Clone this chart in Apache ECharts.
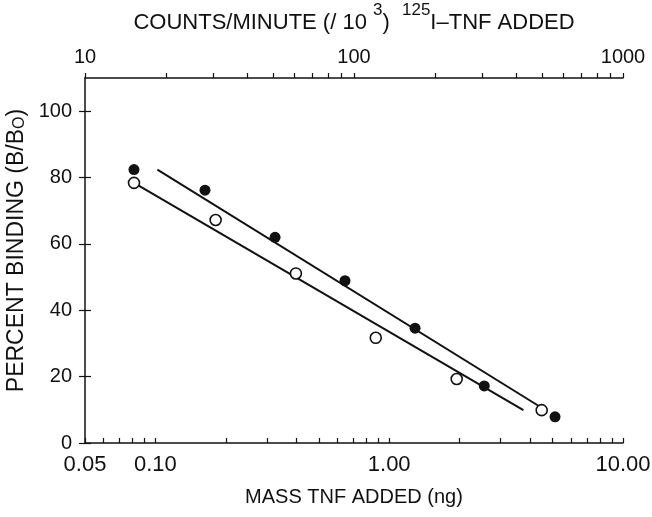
<!DOCTYPE html>
<html>
<head>
<meta charset="utf-8">
<script src="https://cdn.jsdelivr.net/npm/echarts@6/dist/echarts.min.js"></script>
<style>
html,body{margin:0;padding:0;background:#fff;}
#c{width:652px;height:517px;}
</style>
</head>
<body>
<div id="c"></div>
<script>
// ---- data ----
const filledX = [0.081, 0.163, 0.325, 0.647, 1.29, 2.55, 5.12];
const filledY = [82.4, 76.2, 62.0, 48.9, 34.6, 17.2, 7.9];
const openX = [0.081, 0.181, 0.399, 0.876, 1.944, 4.49];
const openY = [78.4, 67.2, 51.1, 31.7, 19.3, 9.9];
const upperLineX = [0.102, 4.4];
const upperLineY = [82.4, 11.0];
const lowerLineX = [0.081, 3.75];
const lowerLineY = [78.4, 9.9];
const bottomLabels = [0.05, 0.1, 1, 10];
const bottomTicks = [0.05, 0.06, 0.07, 0.08, 0.09, 0.1, 0.2, 0.3, 0.4, 0.5, 0.6, 0.7, 0.8, 0.9, 1, 2, 3, 4, 5, 6, 7, 8, 9, 10];
const topLabels = [10, 100, 1000];
const topTicks = [10, 20, 30, 40, 50, 60, 70, 80, 90, 100, 200, 300, 400, 500, 600, 700, 800, 900, 1000];
const yLabels = [0, 20, 40, 60, 80, 100];

const zip = (xs, ys) => xs.map((x, i) => [x, ys[i]]);
const FONT = 'Liberation Sans, Arial, Helvetica, sans-serif';
const black = '#111';

const chart = echarts.init(document.getElementById('c'), null, {renderer: 'canvas'});
chart.setOption({
  animation: false,
  backgroundColor: '#fff',
  grid: {left: 85, right: 29, top: 78, bottom: 74, containLabel: false, outerBoundsMode: 'none'},
  xAxis: [
    {
      type: 'log', logBase: 10, min: 0.05, max: 10, position: 'bottom',
      name: 'MASS TNF ADDED (ng)', nameLocation: 'middle', nameGap: 44,
      nameTextStyle: {fontFamily: FONT, fontSize: 20, color: black},
      axisLine: {show: true, onZero: false, lineStyle: {color: black, width: 1.5}},
      axisTick: {show: true, inside: true, length: 5, customValues: bottomTicks, lineStyle: {color: black, width: 1.2}},
      minorTick: {show: false},
      splitLine: {show: false},
      axisLabel: {show: true, customValues: bottomLabels, margin: 11, fontFamily: FONT, fontSize: 22, color: black,
        formatter: v => Number(v).toFixed(2)}
    },
    {
      type: 'log', logBase: 10, min: 10, max: 1000, position: 'top',
      name: '{a|COUNTS/MINUTE (/ 10 }{s|3}{a|)  }{s|125}{a|I\u2013TNF ADDED}',
      nameLocation: 'middle', nameGap: 44,
      nameTextStyle: {fontFamily: FONT, fontSize: 22, color: black,
        rich: {
          a: {fontFamily: FONT, fontSize: 22, color: black, lineHeight: 32, verticalAlign: 'bottom'},
          s: {fontFamily: FONT, fontSize: 17, color: black, lineHeight: 14, verticalAlign: 'top'}
        }},
      axisLine: {show: true, onZero: false, lineStyle: {color: black, width: 1.5}},
      axisTick: {show: true, inside: false, length: 5, customValues: topTicks, lineStyle: {color: black, width: 1.2}},
      minorTick: {show: false},
      splitLine: {show: false},
      axisLabel: {show: true, customValues: topLabels, margin: 11, fontFamily: FONT, fontSize: 20, color: black,
        formatter: v => String(Math.round(v))}
    }
  ],
  yAxis: [
    {
      type: 'value', min: 0, max: 110, position: 'left',
      name: '{a|PERCENT BINDING (B/B}{b|O}{a|)}', nameLocation: 'middle', nameGap: 52,
      nameTextStyle: {fontFamily: FONT, fontSize: 23, color: black, padding: [0, 0, 0, 20],
        rich: {
          a: {fontFamily: FONT, fontSize: 23, color: black, lineHeight: 26, verticalAlign: 'bottom'},
          b: {fontFamily: FONT, fontSize: 16, color: black, lineHeight: 14, verticalAlign: 'bottom'}
        }},
      axisLine: {show: true, onZero: false, lineStyle: {color: black, width: 1.5}},
      axisTick: {show: true, inside: false, length: 6, customValues: yLabels, lineStyle: {color: black, width: 1.2}},
      splitLine: {show: false},
      axisLabel: {show: true, customValues: yLabels, margin: 13, fontFamily: FONT, fontSize: 20, color: black}
    },
    {
      type: 'value', min: 0, max: 110, position: 'left', offset: 0,
      axisLine: {show: false},
      axisTick: {show: true, inside: true, length: 6, customValues: yLabels, lineStyle: {color: black, width: 1.2}},
      splitLine: {show: false},
      axisLabel: {show: false}
    }
  ],
  series: [
    {type: 'line', xAxisIndex: 0, yAxisIndex: 0, data: zip(upperLineX, upperLineY), symbol: 'none',
      lineStyle: {color: black, width: 2}, z: 2, silent: true},
    {type: 'line', xAxisIndex: 0, yAxisIndex: 0, data: zip(lowerLineX, lowerLineY), symbol: 'none',
      lineStyle: {color: black, width: 2}, z: 2, silent: true},
    {type: 'scatter', xAxisIndex: 0, yAxisIndex: 0, data: zip(filledX, filledY), symbol: 'circle', symbolSize: 11,
      itemStyle: {color: black, opacity: 1}, z: 3},
    {type: 'scatter', xAxisIndex: 0, yAxisIndex: 0, data: zip(openX, openY), symbol: 'circle', symbolSize: 11,
      itemStyle: {color: '#fff', borderColor: black, borderWidth: 1.6, opacity: 1}, z: 3}
  ]
});
</script>
</body>
</html>
